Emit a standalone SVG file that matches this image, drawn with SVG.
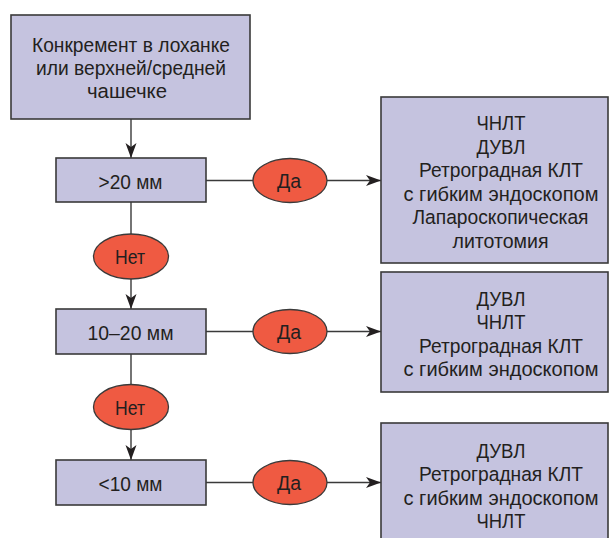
<svg xmlns="http://www.w3.org/2000/svg" width="610" height="538" viewBox="0 0 610 538">
  <style>
    .box { fill: #c5c3df; stroke: #3a3a3a; stroke-width: 1.6; }
    .oval { fill: #ef5a42; stroke: #3a3a3a; stroke-width: 1.3; }
    .t { font-family: "Liberation Sans", Arial, sans-serif; font-size: 20.5px; fill: #231f20; text-anchor: middle; }
    .ln { stroke: #3a3a3a; stroke-width: 1.4; fill: none; }
  </style>
  <defs>
    <marker id="arr" markerUnits="userSpaceOnUse" markerWidth="16" markerHeight="12" refX="15" refY="6" orient="auto">
      <path d="M0,0.5 L15,6 L0,11.5 L4,6 Z" fill="#231f20"/>
    </marker>
  </defs>
  <rect width="610" height="538" fill="#ffffff"/>

  <g id="connectors">
    <line class="ln" x1="131" y1="119" x2="131" y2="158" marker-end="url(#arr)"/>
    <line class="ln" x1="131" y1="202" x2="131" y2="234"/>
    <line class="ln" x1="131" y1="279" x2="131" y2="309" marker-end="url(#arr)"/>
    <line class="ln" x1="131" y1="354" x2="131" y2="385"/>
    <line class="ln" x1="131" y1="429" x2="131" y2="460" marker-end="url(#arr)"/>
    <line class="ln" x1="206" y1="180.5" x2="253" y2="180.5"/>
    <line class="ln" x1="327" y1="180.5" x2="381" y2="180.5" marker-end="url(#arr)"/>
    <line class="ln" x1="206" y1="331.5" x2="253" y2="331.5"/>
    <line class="ln" x1="327" y1="331.5" x2="381" y2="331.5" marker-end="url(#arr)"/>
    <line class="ln" x1="206" y1="482.5" x2="253" y2="482.5"/>
    <line class="ln" x1="327" y1="482.5" x2="381" y2="482.5" marker-end="url(#arr)"/>
  </g>

  <g id="start">
    <rect class="box" x="11" y="15" width="239" height="104"/>
    <text class="t" x="131" y="52" textLength="198" lengthAdjust="spacingAndGlyphs">Конкремент в лоханке</text>
    <text class="t" x="131" y="75" textLength="190" lengthAdjust="spacingAndGlyphs">или верхней/средней</text>
    <text class="t" x="127" y="98" textLength="80" lengthAdjust="spacingAndGlyphs">чашечке</text>
  </g>

  <g id="size-gt20">
    <rect class="box" x="56" y="158" width="150" height="44"/>
    <text class="t" x="130.5" y="189" textLength="64" lengthAdjust="spacingAndGlyphs">&gt;20 мм</text>
  </g>
  <g id="yes1">
    <ellipse class="oval" cx="290" cy="180.5" rx="37" ry="22"/>
    <text class="t" x="289" y="188" textLength="24" lengthAdjust="spacingAndGlyphs">Да</text>
  </g>
  <g id="result1">
    <rect class="box" x="381" y="97" width="227" height="166"/>
    <text class="t" x="501" y="130" textLength="49" lengthAdjust="spacingAndGlyphs">ЧНЛТ</text>
    <text class="t" x="501" y="153.5" textLength="49" lengthAdjust="spacingAndGlyphs">ДУВЛ</text>
    <text class="t" x="501" y="177" textLength="164" lengthAdjust="spacingAndGlyphs">Ретроградная КЛТ</text>
    <text class="t" x="501" y="200.5" textLength="195" lengthAdjust="spacingAndGlyphs">с гибким эндоскопом</text>
    <text class="t" x="500.5" y="224" textLength="176" lengthAdjust="spacingAndGlyphs">Лапароскопическая</text>
    <text class="t" x="500.5" y="247.5" textLength="96" lengthAdjust="spacingAndGlyphs">литотомия</text>
  </g>
  <g id="no1">
    <ellipse class="oval" cx="131" cy="256.5" rx="37.5" ry="22.5"/>
    <text class="t" x="130" y="264" textLength="30" lengthAdjust="spacingAndGlyphs">Нет</text>
  </g>

  <g id="size-10-20">
    <rect class="box" x="56" y="309" width="150" height="45"/>
    <text class="t" x="130.5" y="339.5" textLength="86" lengthAdjust="spacingAndGlyphs">10–20 мм</text>
  </g>
  <g id="yes2">
    <ellipse class="oval" cx="290" cy="331.5" rx="37" ry="22"/>
    <text class="t" x="289" y="339" textLength="24" lengthAdjust="spacingAndGlyphs">Да</text>
  </g>
  <g id="result2">
    <rect class="box" x="381" y="272" width="227" height="120"/>
    <text class="t" x="501" y="305.5" textLength="49" lengthAdjust="spacingAndGlyphs">ДУВЛ</text>
    <text class="t" x="501" y="329" textLength="49" lengthAdjust="spacingAndGlyphs">ЧНЛТ</text>
    <text class="t" x="501" y="352.5" textLength="164" lengthAdjust="spacingAndGlyphs">Ретроградная КЛТ</text>
    <text class="t" x="501" y="376" textLength="195" lengthAdjust="spacingAndGlyphs">с гибким эндоскопом</text>
  </g>
  <g id="no2">
    <ellipse class="oval" cx="131" cy="407" rx="37.5" ry="22.5"/>
    <text class="t" x="130" y="414.5" textLength="30" lengthAdjust="spacingAndGlyphs">Нет</text>
  </g>

  <g id="size-lt10">
    <rect class="box" x="56" y="460" width="150" height="45"/>
    <text class="t" x="130.5" y="490.5" textLength="64" lengthAdjust="spacingAndGlyphs">&lt;10 мм</text>
  </g>
  <g id="yes3">
    <ellipse class="oval" cx="290" cy="482.5" rx="37" ry="22"/>
    <text class="t" x="289" y="490" textLength="24" lengthAdjust="spacingAndGlyphs">Да</text>
  </g>
  <g id="result3">
    <rect class="box" x="381" y="423" width="227" height="130"/>
    <text class="t" x="501" y="457.5" textLength="49" lengthAdjust="spacingAndGlyphs">ДУВЛ</text>
    <text class="t" x="501" y="481" textLength="164" lengthAdjust="spacingAndGlyphs">Ретроградная КЛТ</text>
    <text class="t" x="501" y="504.5" textLength="195" lengthAdjust="spacingAndGlyphs">с гибким эндоскопом</text>
    <text class="t" x="501" y="528" textLength="49" lengthAdjust="spacingAndGlyphs">ЧНЛТ</text>
  </g>
</svg>
